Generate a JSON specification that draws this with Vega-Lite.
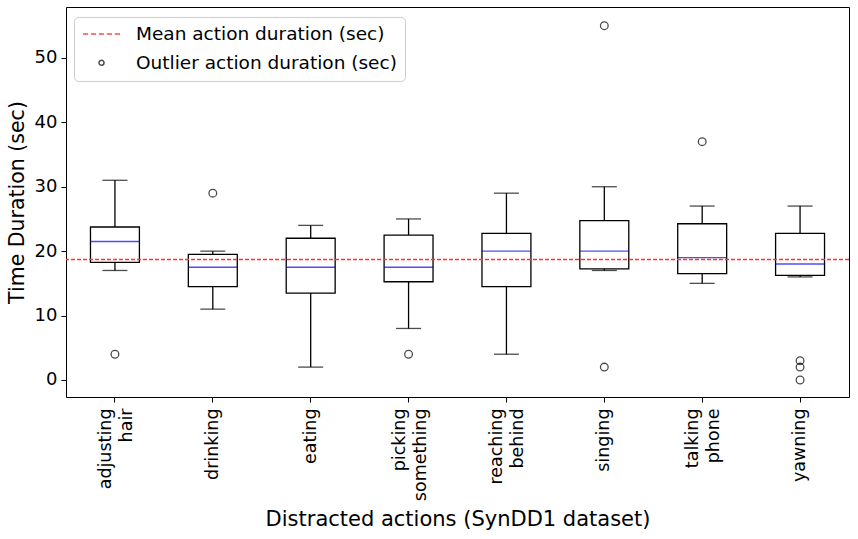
{
  "$schema": "https://vega.github.io/schema/vega-lite/v6.json",
  "autosize": {"type": "none"},
  "padding": {"left": 66, "top": 7, "right": 9, "bottom": 142},
  "width": 783,
  "height": 390,
  "background": "white",
  "config": {
    "font": "DejaVu Sans",
    "view": {"stroke": "#000000", "strokeWidth": 1},
    "axis": {
      "labelColor": "#000000",
      "titleColor": "#000000",
      "titleFontWeight": "normal",
      "tickColor": "#000000",
      "domain": false,
      "grid": false,
      "labelFont": "DejaVu Sans",
      "titleFont": "DejaVu Sans"
    },
    "axisX": {
      "title": "Distracted actions (SynDD1 dataset)",
      "titleFontSize": 21,
      "titlePadding": 8,
      "labelAngle": -90,
      "labelFontSize": 17.5,
      "labelLineHeight": 21,
      "labelPadding": 6,
      "tickSize": 5,
      "labelOffset": {"condition": {"test": "indexof(datum.label, ' ') >= 0", "value": -9}, "value": 0},
      "labelExpr": "split(datum.label, ' ')"
    },
    "legend": {"labelFont": "DejaVu Sans"}
  },
  "datasets": {
    "boxes": [
      {"action": "adjusting hair", "min": 17, "q1": 18.25, "median": 21.5, "q3": 23.75, "max": 31},
      {"action": "drinking", "min": 11, "q1": 14.5, "median": 17.5, "q3": 19.5, "max": 20},
      {"action": "eating", "min": 2, "q1": 13.5, "median": 17.5, "q3": 22, "max": 24},
      {"action": "picking something", "min": 8, "q1": 15.25, "median": 17.5, "q3": 22.5, "max": 25},
      {"action": "reaching behind", "min": 4, "q1": 14.5, "median": 20, "q3": 22.75, "max": 29},
      {"action": "singing", "min": 17, "q1": 17.25, "median": 20, "q3": 24.75, "max": 30},
      {"action": "talking phone", "min": 15, "q1": 16.5, "median": 19, "q3": 24.25, "max": 27},
      {"action": "yawning", "min": 16, "q1": 16.25, "median": 18, "q3": 22.75, "max": 27}
    ],
    "outliers": [
      {"action": "adjusting hair", "value": 4, "series": "Outlier action duration (sec)"},
      {"action": "drinking", "value": 29, "series": "Outlier action duration (sec)"},
      {"action": "picking something", "value": 4, "series": "Outlier action duration (sec)"},
      {"action": "singing", "value": 55, "series": "Outlier action duration (sec)"},
      {"action": "singing", "value": 2, "series": "Outlier action duration (sec)"},
      {"action": "talking phone", "value": 37, "series": "Outlier action duration (sec)"},
      {"action": "yawning", "value": 3, "series": "Outlier action duration (sec)"},
      {"action": "yawning", "value": 2, "series": "Outlier action duration (sec)"},
      {"action": "yawning", "value": 0, "series": "Outlier action duration (sec)"}
    ],
    "mean": [
      {"value": 18.7, "series": "Mean action duration (sec)"}
    ]
  },
  "layer": [
    {
      "data": {"name": "boxes"},
      "mark": {"type": "bar", "fill": null, "fillOpacity": 0, "stroke": "#000000", "strokeWidth": 1.3, "width": {"band": 0.5}},
      "encoding": {
        "x": {
          "field": "action",
          "type": "nominal",
          "sort": ["adjusting hair", "drinking", "eating", "picking something", "reaching behind", "singing", "talking phone", "yawning"],
          "scale": {"paddingInner": 0, "paddingOuter": 0},
          "title": "Distracted actions (SynDD1 dataset)"
        },
        "y": {
          "field": "q1",
          "type": "quantitative",
          "scale": {"domain": [-2.64, 57.9], "nice": false, "zero": false},
          "axis": {
            "title": "Time Duration (sec)",
            "titleFontSize": 20.5,
            "titlePadding": 7,
            "labelFontSize": 18,
            "labelPadding": 4,
            "tickSize": 5,
            "values": [0, 10, 20, 30, 40, 50]
          }
        },
        "y2": {"field": "q3"}
      }
    },
    {
      "data": {"name": "boxes"},
      "mark": {"type": "rule", "stroke": "#000000", "strokeWidth": 1.3},
      "encoding": {
        "x": {"field": "action", "type": "nominal", "sort": ["adjusting hair", "drinking", "eating", "picking something", "reaching behind", "singing", "talking phone", "yawning"], "title": "Distracted actions (SynDD1 dataset)"},
        "y": {"field": "min", "type": "quantitative"},
        "y2": {"field": "q1"}
      }
    },
    {
      "data": {"name": "boxes"},
      "mark": {"type": "rule", "stroke": "#000000", "strokeWidth": 1.3},
      "encoding": {
        "x": {"field": "action", "type": "nominal", "sort": ["adjusting hair", "drinking", "eating", "picking something", "reaching behind", "singing", "talking phone", "yawning"], "title": "Distracted actions (SynDD1 dataset)"},
        "y": {"field": "q3", "type": "quantitative"},
        "y2": {"field": "max"}
      }
    },
    {
      "data": {"name": "boxes"},
      "mark": {"type": "tick", "color": "#000000", "size": 25, "thickness": 1.3},
      "encoding": {
        "x": {"field": "action", "type": "nominal", "sort": ["adjusting hair", "drinking", "eating", "picking something", "reaching behind", "singing", "talking phone", "yawning"], "title": "Distracted actions (SynDD1 dataset)"},
        "y": {"field": "min", "type": "quantitative"}
      }
    },
    {
      "data": {"name": "boxes"},
      "mark": {"type": "tick", "color": "#000000", "size": 25, "thickness": 1.3},
      "encoding": {
        "x": {"field": "action", "type": "nominal", "sort": ["adjusting hair", "drinking", "eating", "picking something", "reaching behind", "singing", "talking phone", "yawning"], "title": "Distracted actions (SynDD1 dataset)"},
        "y": {"field": "max", "type": "quantitative"}
      }
    },
    {
      "data": {"name": "boxes"},
      "mark": {"type": "tick", "color": "#0000ff", "size": 49, "thickness": 1.4},
      "encoding": {
        "x": {"field": "action", "type": "nominal", "sort": ["adjusting hair", "drinking", "eating", "picking something", "reaching behind", "singing", "talking phone", "yawning"], "title": "Distracted actions (SynDD1 dataset)"},
        "y": {"field": "median", "type": "quantitative"}
      }
    },
    {
      "data": {"name": "mean"},
      "mark": {"type": "rule", "color": "#ff3333", "stroke": "#ff3333", "opacity": 1, "strokeWidth": 1.4, "strokeDash": [4, 2]},
      "encoding": {"y": {"field": "value", "type": "quantitative"}}
    },
    {
      "data": {"name": "outliers"},
      "mark": {"type": "point", "filled": false, "size": 3250, "strokeWidth": 1.3},
      "encoding": {
        "x": {"field": "action", "type": "nominal", "sort": ["adjusting hair", "drinking", "eating", "picking something", "reaching behind", "singing", "talking phone", "yawning"], "title": "Distracted actions (SynDD1 dataset)"},
        "y": {"field": "value", "type": "quantitative"},
        "shape": {
          "field": "series",
          "type": "nominal",
          "scale": {
            "domain": ["Mean action duration (sec)", "Outlier action duration (sec)"],
            "range": [
              "M-1,0H-0.72M-0.57,0H-0.29M-0.14,0H0.14M0.29,0H0.57M0.72,0H1",
              "M0.135,0A0.135,0.135 0 1,1 -0.135,0A0.135,0.135 0 1,1 0.135,0Z"
            ]
          },
          "legend": {
            "title": null,
            "orient": "none",
            "legendX": 8,
            "legendY": 10,
            "labelFontSize": 18.5,
            "labelColor": "#000000",
            "labelLimit": 400,
            "symbolSize": 1369,
            "symbolStrokeWidth": 1.5,
            "symbolFillColor": "transparent",
            "clipHeight": 18,
            "rowPadding": 9.7,
            "labelOffset": 15,
            "padding": 8,
            "strokeColor": "#cccccc",
            "fillColor": "rgba(255,255,255,0.8)",
            "cornerRadius": 4
          }
        },
        "stroke": {
          "field": "series",
          "type": "nominal",
          "scale": {
            "domain": ["Mean action duration (sec)", "Outlier action duration (sec)"],
            "range": ["#ff0000", "#000000"]
          },
          "legend": {
            "title": null,
            "orient": "none",
            "legendX": 8,
            "legendY": 10,
            "labelFontSize": 18.5,
            "labelColor": "#000000",
            "labelLimit": 400,
            "symbolSize": 1369,
            "symbolStrokeWidth": 1.5,
            "symbolFillColor": "transparent",
            "clipHeight": 18,
            "rowPadding": 9.7,
            "labelOffset": 15,
            "padding": 8,
            "strokeColor": "#cccccc",
            "fillColor": "rgba(255,255,255,0.8)",
            "cornerRadius": 4
          }
        }
      }
    }
  ]
}
